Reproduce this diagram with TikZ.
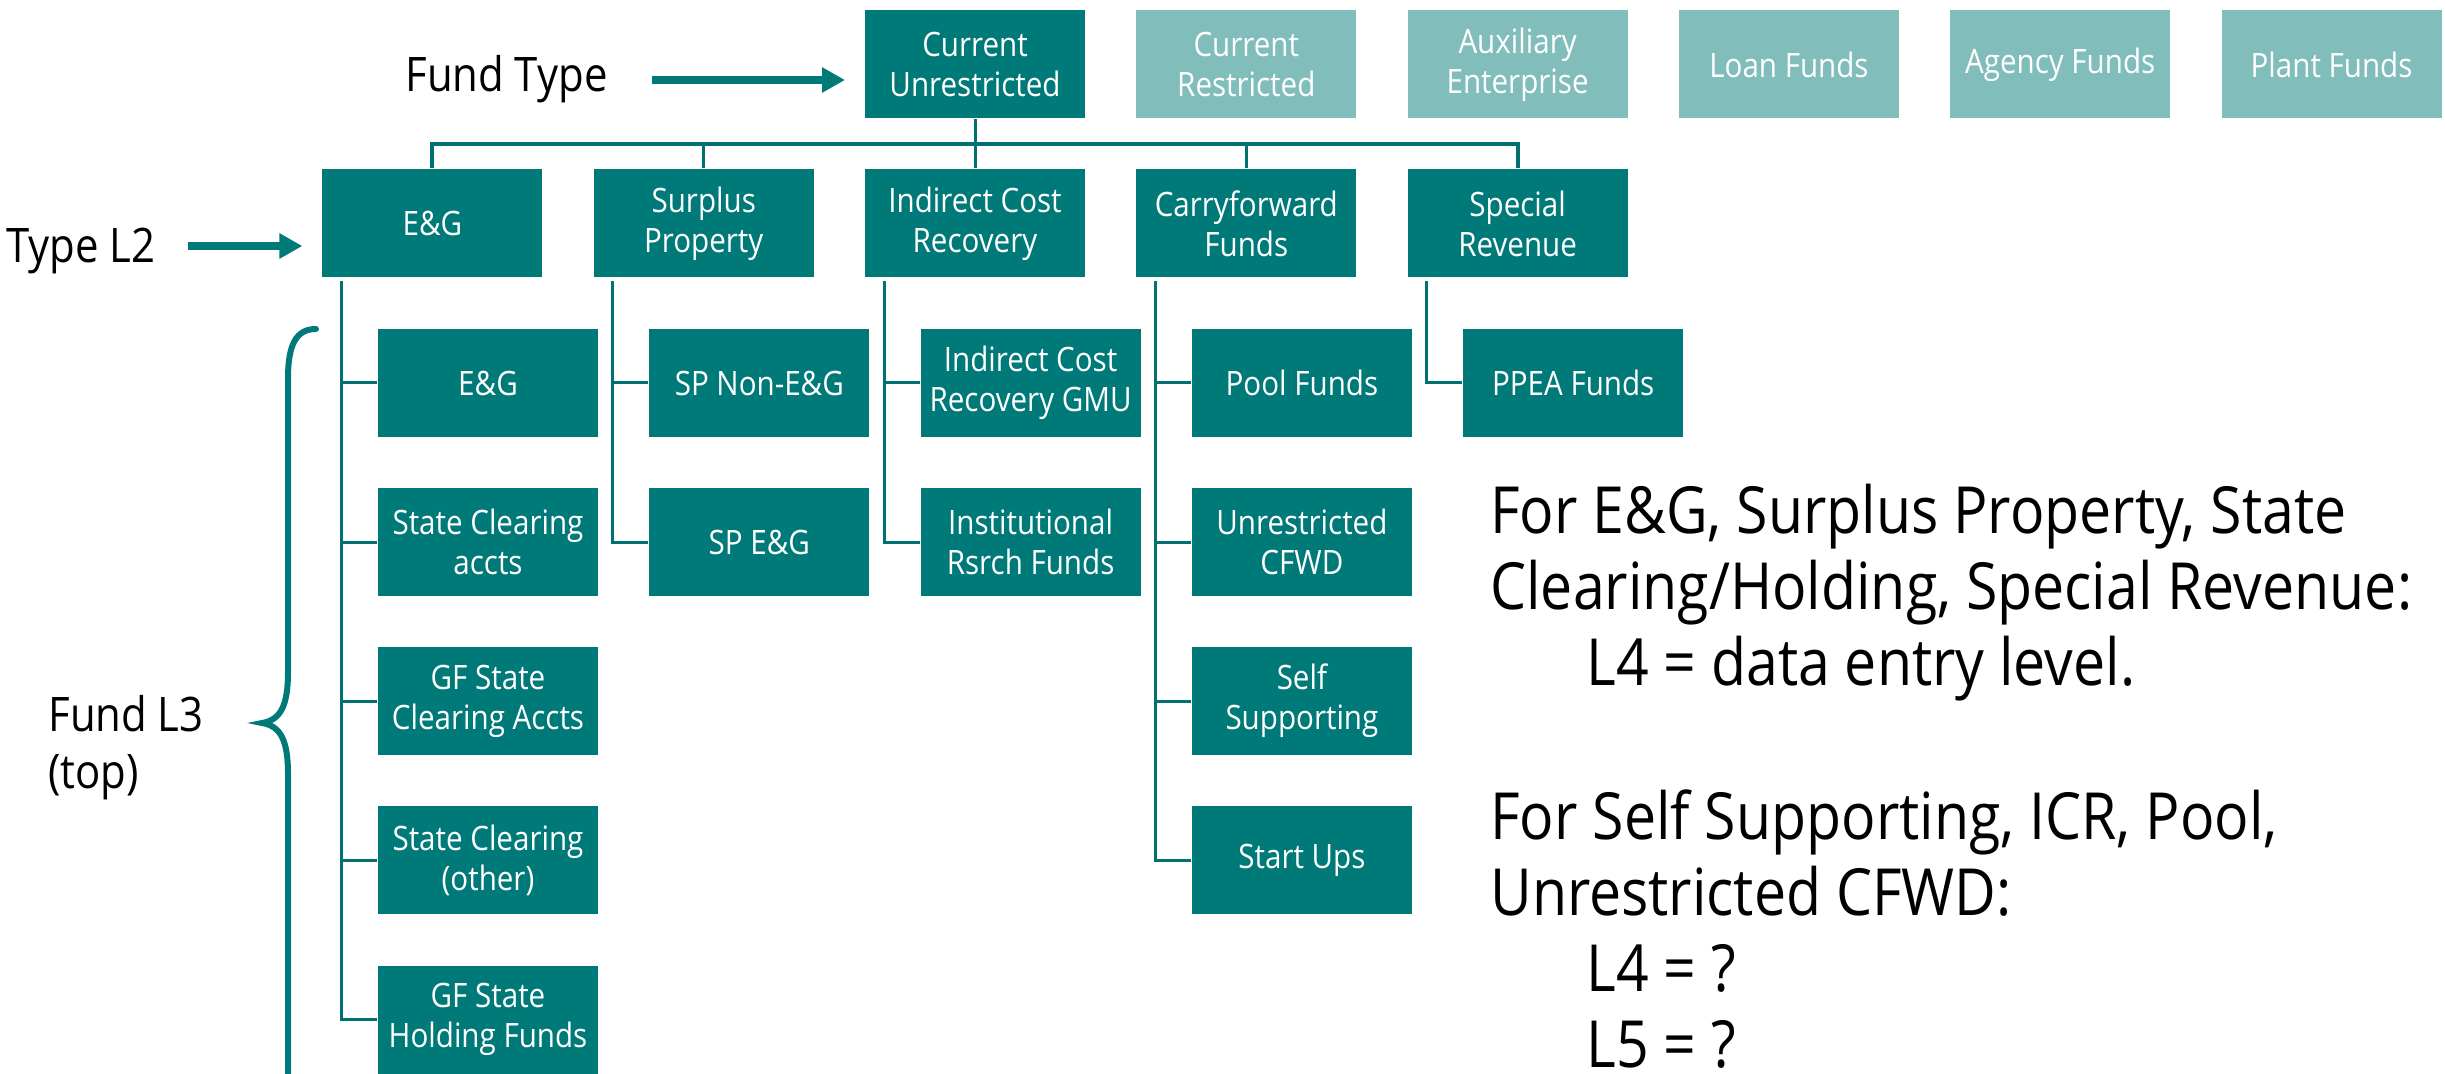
\documentclass[tikz,border=0pt]{standalone}
\usepackage{fontspec}
\setmainfont{Open Sans}[FakeStretch=0.88]
\usetikzlibrary{arrows.meta}
\definecolor{tealD}{RGB}{0,122,120}
\definecolor{tealL}{RGB}{128,189,187}
\definecolor{lineC}{RGB}{0,112,112}
\begin{document}
\begin{tikzpicture}[x=0.5pt,y=-0.5pt,
 box/.style={fill=tealD, draw=white, line width=0.5pt, minimum width=110.5pt, minimum height=54.5pt, inner sep=0pt, text=white, align=center, font=\fontsize{16.8}{20}\selectfont},
 lbox/.style={box, fill=tealL},
 conn/.style={draw=lineC, line width=1.5pt},
 bus/.style={draw=lineC, line width=2pt},
 bigarrow/.style={draw=tealD, line width=4pt, -{Triangle[length=11.5pt,width=12pt]}},
 lbl/.style={font=\fontsize{23.8}{28}\selectfont, anchor=base west, inner sep=0pt},
 note/.style={font=\fontsize{32.5}{38}\selectfont, anchor=base west, inner sep=0pt}]
\useasboundingbox (0,0) rectangle (2445,1074);
\clip (0,0) rectangle (2445,1074);
% top row
\node[box]  (cu) at (975,64.5) {Current\\Unrestricted};
\node[lbox] (cr) at (1246.3,64.5) {Current\\Restricted};
\node[lbox] (ae) at (1517.6,64.5) {Auxiliary\\Enterprise};
\node[lbox] (lf) at (1788.9,64.5) {Loan Funds};
\node[lbox] (af) at (2060.2,64.5) {Agency Funds};
\node[lbox] (pf) at (2331.5,64.5) {Plant Funds};
% L2 row
\node[box] (eg) at (432.4,223.5) {E\&G};
\node[box] (sp) at (703.7,223.5) {Surplus\\Property};
\node[box] (icr) at (975,223.5) {Indirect Cost\\Recovery};
\node[box] (cf) at (1246.3,223.5) {Carryforward\\Funds};
\node[box] (sr) at (1517.6,223.5) {Special\\Revenue};
% L3 column 1
\node[box] (a1) at (488,383) {E\&G};
\node[box] (a2) at (488,542) {State Clearing\\accts};
\node[box] (a3) at (488,701) {GF State\\Clearing Accts};
\node[box] (a4) at (488,860) {State Clearing\\(other)};
\node[box] (a5) at (488,1019.5) {GF State\\Holding Funds};
% column 2
\node[box] (b1) at (759.3,383) {SP Non-E\&G};
\node[box] (b2) at (759.3,542) {SP E\&G};
% column 3
\node[box] (c1) at (1030.6,383) {Indirect Cost\\Recovery GMU};
\node[box] (c2) at (1030.6,542) {Institutional\\Rsrch Funds};
% column 4
\node[box] (d1) at (1301.9,383) {Pool Funds};
\node[box] (d2) at (1301.9,542) {Unrestricted\\CFWD};
\node[box] (d3) at (1301.9,701) {Self\\Supporting};
\node[box] (d4) at (1301.9,860) {Start Ups};
% column 5
\node[box] (e1) at (1573.2,383) {PPEA Funds};
% bus
\coordinate (busc) at (975,144);
\draw[conn] (cu.south) -- (busc);
\draw[bus] (busc) -| (eg.north);
\draw[bus] (busc) -| (sr.north);
\draw[conn] (busc) -| (sp.north);
\draw[conn] (busc) -| (icr.north);
\draw[conn] (busc) -| (cf.north);
% trunks
\foreach \p/\c in {eg/a1,eg/a2,eg/a3,eg/a4,eg/a5,sp/b1,sp/b2,icr/c1,icr/c2,cf/d1,cf/d2,cf/d3,cf/d4,sr/e1}
  \draw[conn] ([xshift=10pt,yshift=-1.5pt]\p.south west) |- (\c.west);
% labels
\node[lbl] (ftl) at (405,92) {Fund Type};
\node[lbl] (t2l) at (6,263) {Type L2};
\node[lbl] (f3l) at (48,731) {Fund L3};
\node[lbl] (topl) at (48,788) {(top)};
\coordinate (ar1s) at (652,80);
\coordinate (ar2s) at (188,246);
\draw[bigarrow] (ar1s) -- ([xshift=-9.5pt]ar1s -| cu.west);
\draw[bigarrow] (ar2s) -- ([xshift=-9.5pt]ar2s -| eg.west);
% brace
\draw[tealD, line width=3pt, line cap=round] (316,329) .. controls (296,329) and (288,345) .. (288,378) -- (288,672) .. controls (288,705) and (281,720) .. (262,723) .. controls (281,726) and (288,741) .. (288,774) -- (288,1120);
% notes
\node[note] (n1) at (1490,533) {For E\&G, Surplus Property, State};
\node[note] (n2) at (1490,609) {Clearing/Holding, Special Revenue:};
\node[note] (n3) at (1586,685) {L4 = data entry level.};
\node[note] (n4) at (1490,839) {For Self Supporting, ICR, Pool,};
\node[note] (n5) at (1490,915) {Unrestricted CFWD:};
\node[note] (n6) at (1586,991) {L4 = ?};
\node[note] (n7) at (1586,1067) {L5 = ?};
\end{tikzpicture}
\end{document}
